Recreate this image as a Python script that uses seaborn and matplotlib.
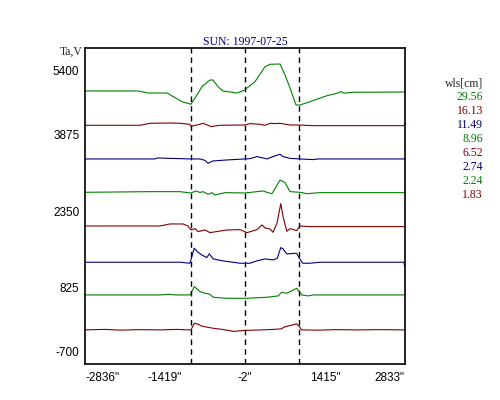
import numpy as np
import pandas as pd
import seaborn as sns
import matplotlib.pyplot as plt
from matplotlib.transforms import ScaledTranslation

# wavelengths [cm] and scan data (x in arcsec, Ta in V, offset per channel)
wls = ["29.56", "16.13", "11.49", "8.96", "6.52", "2.74", "2.24", "1.83"]
colors = ["#008000", "#800000", "#000080", "#008000", "#800000", "#000080", "#008000", "#800000"]

x1 = [-2836, -1897, -1720, -1383, -1118, -958, -887, -763, -622, -568, -480, -391, -143, -2, 34, 176,
      353, 442, 619, 707, 796, 902, 973, 1150, 1451, 1628, 1700, 1750, 1912, 2833]
y1 = [4743, 4743, 4703, 4703, 4530, 4478, 4603, 4829, 4962, 4962, 4829, 4743, 4703, 4763, 4803, 4929,
      5228, 5275, 5281, 5062, 4803, 4464, 4464, 4530, 4649, 4697, 4730, 4700, 4717, 4723]

x2 = [-2836, -1862, -1684, -1330, -1153, -976, -958, -799, -746, -657, -604, -444, -2, 87, 265, 353,
      442, 530, 619, 796, 938, 1203, 2815, 2833]
y2 = [4059, 4059, 4099, 4105, 4099, 4079, 4039, 4079, 4099, 4059, 4033, 4059, 4065, 4093, 4079, 4059,
      4099, 4093, 4099, 4065, 4065, 4052, 4052, 4105]

x3 = [-2836, -1600, -1550, -976, -799, -710, -657, -568, -320, -2, 87, 211, 317, 388, 477, 619, 672,
      796, 973, 1203, 1292, 2833]
y3 = [3388, 3388, 3408, 3388, 3388, 3360, 3302, 3348, 3368, 3388, 3395, 3434, 3408, 3388, 3428, 3482,
      3434, 3400, 3388, 3375, 3388, 3388]

x4 = [-2836, -1684, -1153, -1011, -958, -870, -799, -746, -657, -586, -533, -356, -2, 211, 317, 406,
      477, 619, 707, 796, 973, 1097, 1327, 2833]
y4 = [2723, 2736, 2736, 2716, 2710, 2750, 2720, 2736, 2683, 2716, 2670, 2716, 2710, 2736, 2750, 2716,
      2696, 2966, 2916, 2736, 2723, 2696, 2716, 2716]

x5 = [-2836, -1507, -1330, -1100, -1011, -958, -887, -834, -710, -622, -320, -90, 34, 211, 300, 353,
      442, 495, 566, 632, 672, 738, 796, 915, 973, 1150, 2833]
y5 = [2052, 2052, 2092, 2092, 2052, 1972, 1999, 1939, 1972, 1919, 1972, 1979, 1919, 1979, 2072, 2012,
      1992, 1925, 2112, 2497, 2245, 1945, 1999, 1959, 2052, 2039, 2039]

x6 = [-2836, -1153, -976, -928, -900, -852, -769, -680, -634, -563, -391, -90, 87, 206, 353, 500, 571,
      632, 672, 738, 915, 961, 1021, 1150, 1327, 2815, 2833]
y6 = [1329, 1329, 1309, 1508, 1608, 1548, 1475, 1422, 1495, 1395, 1355, 1309, 1309, 1355, 1395, 1375,
      1409, 1621, 1595, 1495, 1508, 1409, 1309, 1309, 1329, 1329, 1220]

x7 = [-2836, -1507, -1330, -1241, -976, -900, -799, -710, -634, -563, -326, 28, 382, 588, 648, 738,
      915, 1004, 1115, 1203, 2833]
y7 = [677, 677, 690, 677, 677, 843, 743, 710, 697, 630, 610, 610, 630, 657, 730, 710,
      810, 677, 657, 677, 677]

x8 = [-2836, -2500, -2200, -1900, -1500, -1200, -1000, -958, -900, -830, -780, -700, -563, -400, -200,
      0, 300, 500, 640, 700, 915, 960, 1000, 1300, 1600, 2000, 2400, 2833]
y8 = [-20, -10, -25, -15, -20, -10, -20, -20, 113, 93, 60, 40, 12, -10, -50,
      -30, -20, -10, 0, 40, 100, 50, -20, -25, -15, -20, -15, -20]

xs = [x1, x2, x3, x4, x5, x6, x7, x8]
ys = [y1, y2, y3, y4, y5, y6, y7, y8]

limb = [-960, 0, 960]
xticks = [-2836, -1419, -2, 1415, 2833]
yticks = [-700, 825, 2350, 3875, 5400]

sns.set_style("white")
plt.rcParams['font.family'] = ['Liberation Sans', 'DejaVu Sans']

fig = plt.figure(figsize=(5, 4), dpi=100)
ax = fig.add_axes([0.17, 0.09, 0.64, 0.79])

for i in range(len(wls)):
    df = pd.DataFrame({'x': xs[i], 'y': ys[i]})
    sns.lineplot(data=df, x='x', y='y', color=colors[i], linewidth=0.8, estimator=None, ax=ax)

for xv in limb:
    ax.axvline(xv, color='black', linewidth=1, linestyle=(0, (4, 3)))

ax.set_xlim(-2836, 2833)
ax.set_ylim(-700, 5600)
ax.set_xticks(xticks)
ax.set_xticklabels([f'{t}"' for t in xticks])
ax.set_yticks(yticks)
ax.set_yticklabels([str(t) for t in yticks])
ax.set_xlabel('')
ax.set_ylabel('')
ax.tick_params(direction='in', length=3, width=1, labelsize=8.5, colors='black', pad=4)
ax.tick_params(axis='x', pad=6)
for s in ax.spines.values():
    s.set_color('black')
    s.set_linewidth(1.2)

# end labels pulled inward like the original
xl = ax.get_xticklabels()
xl[0].set_ha('left')
xl[-1].set_ha('right')
yl = ax.get_yticklabels()
yl[-1].set_transform(yl[-1].get_transform() + ScaledTranslation(0, -0.12, fig.dpi_scale_trans))
yl[0].set_transform(yl[0].get_transform() + ScaledTranslation(0, 0.12, fig.dpi_scale_trans))

ax.set_title('SUN: 1997-07-25', color='#000080', fontsize=8.5, family=['Liberation Serif'], pad=2)
fig.text(83 / 500, 1 - 52 / 400, 'Ta,V', ha='right', va='center', fontsize=8.5, family=['Liberation Serif'])

fig.text(483 / 500, 1 - 83 / 400, 'wls[cm]', ha='right', va='center', fontsize=8.5,
         family=['Liberation Serif'])
for i, w in enumerate(wls):
    fig.text(483 / 500, 1 - (97 + 14 * i) / 400, w, ha='right', va='center', fontsize=8.5,
             color=colors[i], family=['Liberation Serif'])

fig.savefig('out.png', dpi=100)
